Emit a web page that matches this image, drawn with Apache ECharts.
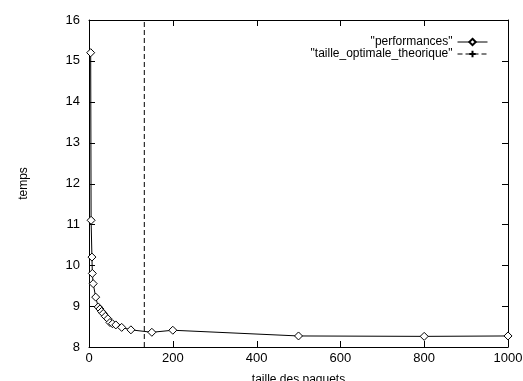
<!DOCTYPE html>
<html>
<head>
<meta charset="utf-8">
<script src="https://cdn.jsdelivr.net/npm/echarts@6/dist/echarts.min.js"></script>
<style>
  html, body { margin: 0; padding: 0; background: #fff; }
  #main { width: 523px; height: 381px; }
</style>
</head>
<body>
<div id="main"></div>
<script>
// packet size vs time
const taille = [4, 5, 7, 8, 10, 16, 22, 26, 30, 34, 39, 45, 50, 56, 64, 78, 100, 150, 200, 500, 800, 1000];
const temps = [15.2, 11.1, 10.2, 9.8, 9.55, 9.22, 8.98, 8.93, 8.87, 8.82, 8.75, 8.69, 8.6, 8.57, 8.54, 8.48, 8.42, 8.36, 8.41, 8.27, 8.26, 8.27];
const taille_optimale = 132;
const xRange = [0, 1000];
const yRange = [8, 16];
const xTicks = [0, 200, 400, 600, 800, 1000];
const yTicks = [8, 9, 10, 11, 12, 13, 14, 15, 16];

const FONT = "Liberation Sans";
const TICK = 6;
const plus = "path://M0,5L10,5M5,0L5,10";

let perfData = [];
for (let i = 0; i < taille.length; ++i) {
  perfData.push([taille[i], temps[i]]);
}
const optData = [[taille_optimale, yRange[0]], [taille_optimale, yRange[1]]];

// gnuplot style mirrored inward ticks, placed through the chart's own scales
let xTickData = xTicks.map(function (v) { return [v, yRange[0]]; });
let yTickData = yTicks.map(function (v) { return [xRange[0], v]; });

function seg(x1, y1, x2, y2) {
  return {type: "line", shape: {x1: x1, y1: y1, x2: x2, y2: y2},
          style: {stroke: "#000", lineWidth: 1}};
}
function renderXTick(params, api) {
  const b = api.coord([api.value(0), yRange[0]]);
  const t = api.coord([api.value(0), yRange[1]]);
  const x = Math.round(b[0]) + 0.5;
  return {type: "group", children: [seg(x, b[1], x, b[1] - TICK), seg(x, t[1], x, t[1] + TICK)]};
}
function renderYTick(params, api) {
  const l = api.coord([xRange[0], api.value(1)]);
  const r = api.coord([xRange[1], api.value(1)]);
  const y = Math.round(l[1]) + 0.5;
  return {type: "group", children: [seg(l[0], y, l[0] + TICK, y), seg(r[0], y, r[0] - TICK, y)]};
}

function line() {
  return {show: true, onZero: false, lineStyle: {color: "#000", width: 1}};
}
function label(margin) {
  return {fontFamily: FONT, fontSize: 13, color: "#000", margin: margin,
          formatter: function (v) { return String(v); }};
}

var myChart = echarts.init(document.getElementById("main"));
myChart.setOption({
  animation: false,
  grid: {left: 89, right: 15, top: 20, bottom: 34, outerBoundsMode: "none"},
  legend: {
    orient: "vertical",
    right: 30,
    top: 31,
    align: "right",
    itemWidth: 30,
    itemHeight: 8,
    itemGap: 0,
    lineStyle: {width: 1},
    textStyle: {fontFamily: FONT, fontSize: 12, color: "#000", lineHeight: 12},
    data: ["\"performances\"", "\"taille_optimale_theorique\""]
  },
  xAxis: [
    {
      type: "value",
      min: xRange[0], max: xRange[1], interval: 200,
      name: "taille des paquets",
      nameLocation: "middle",
      nameGap: 27,
      nameTextStyle: {fontFamily: FONT, fontSize: 12, color: "#000"},
      axisLine: line(),
      axisTick: {show: false},
      axisLabel: label(5),
      splitLine: {show: false}
    },
    {
      type: "value", position: "top",
      min: xRange[0], max: xRange[1], interval: 200,
      axisLine: line(),
      axisTick: {show: false},
      axisLabel: {show: false},
      splitLine: {show: false}
    }
  ],
  yAxis: [
    {
      type: "value",
      min: yRange[0], max: yRange[1], interval: 1,
      name: "temps",
      nameLocation: "middle",
      nameGap: 59,
      nameTextStyle: {fontFamily: FONT, fontSize: 12, color: "#000"},
      axisLine: line(),
      axisTick: {show: false},
      axisLabel: label(9),
      splitLine: {show: false}
    },
    {
      type: "value", position: "right",
      min: yRange[0], max: yRange[1], interval: 1,
      axisLine: line(),
      axisTick: {show: false},
      axisLabel: {show: false},
      splitLine: {show: false}
    }
  ],
  series: [
    {
      name: "xticks",
      type: "custom",
      renderItem: renderXTick,
      data: xTickData,
      encode: {x: 0, y: 1},
      silent: true,
      z: 1
    },
    {
      name: "yticks",
      type: "custom",
      renderItem: renderYTick,
      data: yTickData,
      encode: {x: 0, y: 1},
      silent: true,
      z: 1
    },
    {
      name: "\"performances\"",
      type: "line",
      data: perfData,
      symbol: "diamond",
      symbolSize: 8,
      itemStyle: {color: "#fff", borderColor: "#000", borderWidth: 1},
      lineStyle: {color: "#000", width: 1}
    },
    {
      name: "\"taille_optimale_theorique\"",
      type: "line",
      data: optData,
      symbol: plus,
      symbolSize: 7,
      showSymbol: false,
      itemStyle: {color: "#000", borderColor: "#000", borderWidth: 1},
      lineStyle: {color: "#000", width: 1, type: [5, 3]}
    }
  ]
});
</script>
</body>
</html>
